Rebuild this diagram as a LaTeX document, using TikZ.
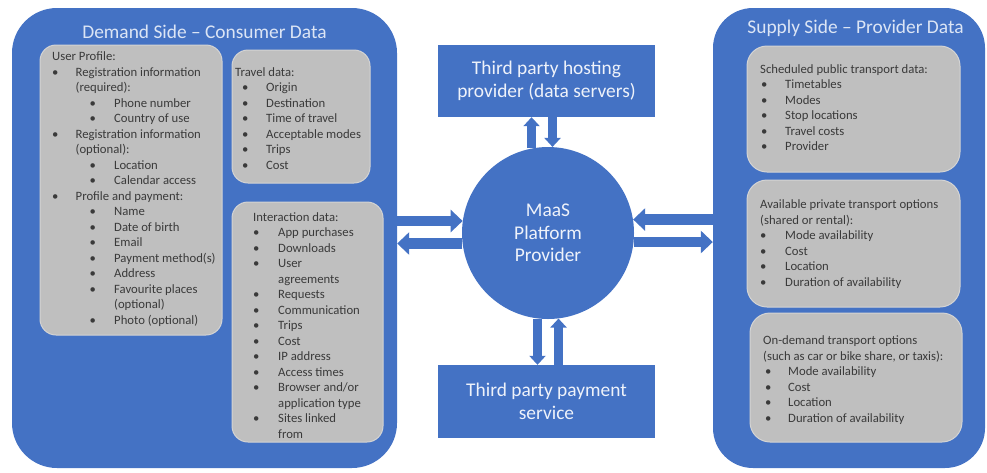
\documentclass[tikz,border=0pt]{standalone}
\usepackage{fontspec}
\setmainfont{Carlito}
\usetikzlibrary{arrows.meta}
\definecolor{mblue}{HTML}{4472C4}
\definecolor{mgray}{HTML}{BFBFBF}
\definecolor{mgrayedge}{HTML}{D4D4D4}
\definecolor{txtdark}{HTML}{3A3A3A}
\definecolor{titletxt}{HTML}{DCE5F5}
\definecolor{centertxt}{HTML}{EEF2FA}
\newcommand\bl[3]{\hspace*{#1}\makebox[#2][l]{\textbullet}#3}
\newcommand\ct[2]{\hspace*{#1}#2}
\begin{document}
\begin{tikzpicture}[x=1pt,y=-1pt,
  bigbox/.style={fill=mblue, draw=none, rounded corners=45pt, inner sep=0},
  graybox/.style={fill=mgray, draw=mgrayedge, line width=1pt, rounded corners=16pt, inner sep=0},
  bluebox/.style={fill=mblue, draw=none, inner sep=0, align=center, text=centertxt, font=\fontsize{19.4}{23}\selectfont},
  hub/.style={circle, fill=mblue, draw=none, inner sep=0, minimum size=172pt, align=center, text=centertxt, font=\fontsize{19.4}{22.5}\selectfont},
  titletext/.style={anchor=base, inner sep=0, text=titletxt, font=\fontsize{19.4}{23}\selectfont},
  itxt/.style={anchor=north west, inner sep=0, align=left, text=txtdark, font=\fontsize{12.7}{15.5}\selectfont},
  harrow/.style={draw=mblue, line width=10.5pt, -{Triangle[width=22pt,length=12pt]}},
  varrow/.style={draw=mblue, line width=9pt, -{Triangle[width=16pt,length=9pt]}},
]
\useasboundingbox (0,0) rectangle (987,472);

% big side panels
\node[bigbox, minimum width=385pt, minimum height=460pt] (demand) at (204.5,238) {};
\node[bigbox, rounded corners=40pt, minimum width=272pt, minimum height=460pt] (supply) at (849,238) {};
\node[titletext] (dtitle) at (204.5,38) {Demand Side – Consumer Data};
\node[titletext] (stitle) at (855.5,33.5) {Supply Side – Provider Data};

% demand inner boxes
\node[graybox, minimum width=182pt, minimum height=290pt] (prof) at (131,190) {};
\node[graybox, minimum width=138pt, minimum height=133pt] (travel) at (301,116.5) {};
\node[graybox, minimum width=151pt, minimum height=240pt] (inter) at (307.5,322) {};

\node[itxt] (tprof) at (52,49.65) {\strut User Profile:\\
\bl{0pt}{23.5pt}{Registration information}\\
\ct{23.5pt}{(required):}\\
\bl{37.5pt}{24.5pt}{Phone number}\\
\bl{37.5pt}{24.5pt}{Country of use}\\
\bl{0pt}{23.5pt}{Registration information}\\
\ct{23.5pt}{(optional):}\\
\bl{37.5pt}{24.5pt}{Location}\\
\bl{37.5pt}{24.5pt}{Calendar access}\\
\bl{0pt}{23.5pt}{Profile and payment:}\\
\bl{37.5pt}{24.5pt}{Name}\\
\bl{37.5pt}{24.5pt}{Date of birth}\\
\bl{37.5pt}{24.5pt}{Email}\\
\bl{37.5pt}{24.5pt}{Payment method(s)}\\
\bl{37.5pt}{24.5pt}{Address}\\
\bl{37.5pt}{24.5pt}{Favourite places}\\
\ct{62pt}{(optional)}\\
\bl{37.5pt}{24.5pt}{Photo (optional)}};

\node[itxt] (ttravel) at (235,65.15) {\strut Travel data:\\
\bl{7pt}{24pt}{Origin}\\
\bl{7pt}{24pt}{Destination}\\
\bl{7pt}{24pt}{Time of travel}\\
\bl{7pt}{24pt}{Acceptable modes}\\
\bl{7pt}{24pt}{Trips}\\
\bl{7pt}{24pt}{Cost}};

\node[itxt] (tinter) at (253,210.15) {\strut Interaction data:\\
\bl{0pt}{25pt}{App purchases}\\
\bl{0pt}{25pt}{Downloads}\\
\bl{0pt}{25pt}{User}\\
\ct{25pt}{agreements}\\
\bl{0pt}{25pt}{Requests}\\
\bl{0pt}{25pt}{Communication}\\
\bl{0pt}{25pt}{Trips}\\
\bl{0pt}{25pt}{Cost}\\
\bl{0pt}{25pt}{IP address}\\
\bl{0pt}{25pt}{Access times}\\
\bl{0pt}{25pt}{Browser and/or}\\
\ct{25pt}{application type}\\
\bl{0pt}{25pt}{Sites linked}\\
\ct{25pt}{from}};

% supply inner boxes
\node[graybox, rounded corners=20pt, minimum width=213pt, minimum height=126pt] (sched) at (853.5,109) {};
\node[graybox, rounded corners=20pt, minimum width=213pt, minimum height=127pt] (priv) at (853.5,243.5) {};
\node[graybox, rounded corners=20pt, minimum width=212pt, minimum height=129pt] (ondem) at (856,377.5) {};

\node[itxt] (tsched) at (760,62.15) {\strut Scheduled public transport data:\\
\bl{1pt}{24pt}{Timetables}\\
\bl{1pt}{24pt}{Modes}\\
\bl{1pt}{24pt}{Stop locations}\\
\bl{1pt}{24pt}{Travel costs}\\
\bl{1pt}{24pt}{Provider}};

\node[itxt] (tpriv) at (760,197.65) {\strut Available private transport options\\
(shared or rental):\\
\bl{0pt}{25pt}{Mode availability}\\
\bl{0pt}{25pt}{Cost}\\
\bl{0pt}{25pt}{Location}\\
\bl{0pt}{25pt}{Duration of availability}};

\node[itxt] (tondem) at (763,333.65) {\strut On-demand transport options\\
(such as car or bike share, or taxis):\\
\bl{2pt}{23pt}{Mode availability}\\
\bl{2pt}{23pt}{Cost}\\
\bl{2pt}{23pt}{Location}\\
\bl{2pt}{23pt}{Duration of availability}};

% centre
\node[bluebox, minimum width=217pt, minimum height=72pt] (host) at (546.5,81) {Third party hosting\\provider (data servers)};
\node[bluebox, minimum width=217pt, minimum height=73pt] (pay) at (546.5,401.5) {Third party payment\\service};
\node[hub] (circ) at (548,233) {MaaS\\Platform\\Provider};

% connectors
\draw[harrow] (demand.east |- circ.172) -- (circ.172);
\draw[harrow] (circ.187) -- (demand.east |- circ.187);
\draw[harrow] (supply.west |- circ.9) -- (circ.9);
\draw[harrow] (circ.354) -- (supply.west |- circ.354);
\draw[varrow] (circ.101) -- (host.south -| circ.101);
\draw[varrow] (host.south -| circ.87) -- (circ.87);
\draw[varrow] (circ.263) -- (pay.north -| circ.263);
\draw[varrow] (pay.north -| circ.277) -- (circ.277);
\end{tikzpicture}
\end{document}
